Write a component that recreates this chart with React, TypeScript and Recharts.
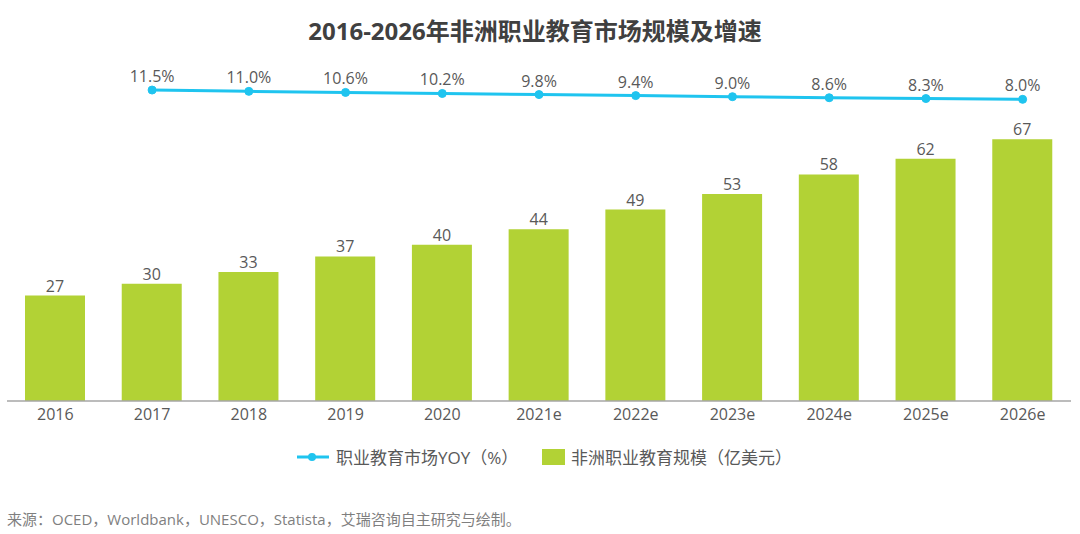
import React from "react"
import { Bar, ComposedChart, LabelList, Line, XAxis, YAxis } from "recharts"

const categories = ["2016", "2017", "2018", "2019", "2020", "2021e", "2022e", "2023e", "2024e", "2025e", "2026e"]
const marketSize = [27, 30, 33, 37, 40, 44, 49, 53, 58, 62, 67]
const yoyGrowth = [null, 11.5, 11.0, 10.6, 10.2, 9.8, 9.4, 9.0, 8.6, 8.3, 8.0]

const sizeName = "非洲职业教育规模（亿美元）"
const yoyName = "职业教育市场YOY（%）"

const data = categories.map((year, i) => ({
    year,
    size: marketSize[i],
    yoy: yoyGrowth[i]
}))

const FONT = "'Open Sans', 'Noto Sans CJK SC', sans-serif"
const GREEN = "#b2d235"
const CYAN = "#1fc4ef"
const TEXT = "#595959"

const ChartLegend = () => (
    <div style={{ position: "absolute", left: 296, top: 444, display: "flex", alignItems: "center", fontSize: 17, color: TEXT, whiteSpace: "nowrap" }}>
        <svg width={34} height={16} style={{ marginRight: 6 }}>
            <line x1={1} y1={8} x2={33} y2={8} stroke={CYAN} strokeWidth={3} />
            <circle cx={16} cy={8} r={4} fill={CYAN} />
        </svg>
        <span style={{ width: 206 }}>{yoyName}</span>
        <span style={{ display: "inline-block", width: 23, height: 16, background: GREEN, marginRight: 6 }} />
        <span>{sizeName}</span>
    </div>
)

const App = () => {
    return <div style={{ position: "absolute", left: 0, top: 0, width: 1080, height: 534, background: "#fff", fontFamily: FONT }}>
        <div style={{ position: "absolute", top: 12, left: 0, width: 1070, textAlign: "center", fontSize: 24, fontWeight: 700, color: "#404040" }}>
            2016-2026年非洲职业教育市场规模及增速
        </div>
        <ComposedChart width={1080} height={534} data={data} margin={{ top: 60, right: 9, bottom: 103, left: 7 }}>
            <XAxis dataKey="year" tickLine={false} axisLine={{ stroke: "#a6a6a6", strokeWidth: 1.5 }}
                tick={{ fill: TEXT, fontSize: 16, fontFamily: FONT }} interval={0} />
            <YAxis yAxisId="size" hide domain={[0, 87.3]} />
            <YAxis yAxisId="yoy" hide orientation="right" domain={[-105.5, 22.8]} />
            <Bar yAxisId="size" dataKey="size" name={sizeName} fill={GREEN} barSize={60} isAnimationActive={false}>
                <LabelList dataKey="size" position="top" offset={4} fill={TEXT} fontSize={16} fontFamily={FONT} />
            </Bar>
            <Line yAxisId="yoy" dataKey="yoy" name={yoyName} stroke={CYAN} strokeWidth={3}
                dot={{ r: 4, fill: CYAN, stroke: CYAN, strokeWidth: 1 }} isAnimationActive={false}>
                <LabelList dataKey="yoy" position="top" offset={8} fill={TEXT} fontSize={16} fontFamily={FONT}
                    formatter={(v: any) => (v == null ? "" : Number(v).toFixed(1) + "%")} />
            </Line>
        </ComposedChart>
        <ChartLegend />
        <div style={{ position: "absolute", left: 7, top: 508, fontSize: 15, color: "#7f7f7f", whiteSpace: "nowrap" }}>
            来源：OCED，Worldbank，UNESCO，Statista，艾瑞咨询自主研究与绘制。
        </div>
    </div>
}

export default App
